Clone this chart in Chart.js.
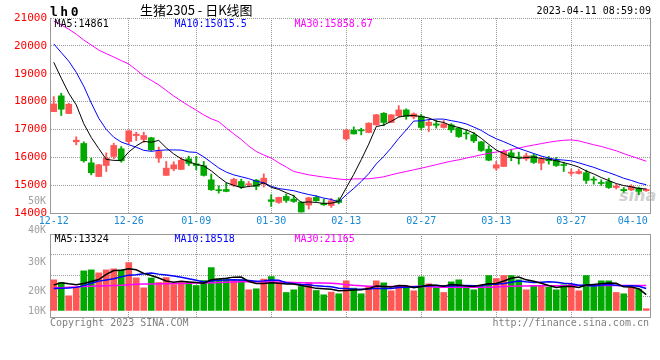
<!DOCTYPE html>
<html><head><meta charset="utf-8">
<script src="https://cdn.jsdelivr.net/npm/chart.js@4.4.1/dist/chart.umd.min.js"></script>
<style>
html,body{margin:0;padding:0;background:#fff;width:660px;height:360px;overflow:hidden;}
#wrap{position:relative;width:660px;height:360px;}
canvas{position:absolute;left:0;}
.t{position:absolute;white-space:pre;font-family:"DejaVu Sans Mono",monospace;font-size:10px;line-height:10px;}
</style></head><body><div id="wrap">
<div id="wm" style="position:absolute;left:619px;top:188px;font:italic bold 16px 'DejaVu Sans';color:#d0d0d0;line-height:16px">sina</div>
<canvas id="main" width="660" height="232" style="top:0"></canvas>
<canvas id="vol" width="660" height="88" style="top:232px"></canvas>
</div>
<script>
// ---------- data ----------
const dates = [
'12-12','12-13','12-14','12-15','12-16','12-19','12-20','12-21','12-22','12-23',
'12-26','12-27','12-28','12-29','12-30','01-03','01-04','01-05','01-06','01-09',
'01-10','01-11','01-12','01-13','01-16','01-17','01-18','01-19','01-20','01-30',
'01-31','02-01','02-02','02-03','02-06','02-07','02-08','02-09','02-10','02-13',
'02-14','02-15','02-16','02-17','02-20','02-21','02-22','02-23','02-24','02-27',
'02-28','03-01','03-02','03-03','03-06','03-07','03-08','03-09','03-10','03-13',
'03-14','03-15','03-16','03-17','03-20','03-21','03-22','03-23','03-24','03-27',
'03-28','03-29','03-30','03-31','04-03','04-04','04-06','04-07','04-10','04-11'];
const labelDates = ['12-12','12-26','01-09','01-30','02-13','02-27','03-13','03-27','04-10'];

const open = [17640,18205,17570,16555,16495,15800,15310,15705,16030,16305,
16565,16780,16640,16700,15970,15350,15585,15565,15945,15765,
15695,15190,14835,14845,15000,15130,15015,15180,15060,14475,
14380,14595,14500,14390,14285,14560,14345,14270,14465,16660,
16975,16975,16890,17165,17580,17250,17485,17700,17450,17475,
17140,17200,17070,17165,17045,16865,16805,16555,16290,15610,
15670,16160,16005,15945,16055,15790,15935,15895,15740,15430,
15420,15445,15215,15095,15130,14915,14845,14835,14895,14800];
const high = [18180,18300,17940,16735,16555,15970,15745,16160,16505,16385,
16975,16900,16900,16720,16365,15850,15840,15995,16040,16030,
15850,15395,14975,15075,15250,15215,15130,15205,15405,14655,
14570,14680,14640,14415,14570,14620,14500,14525,14545,16995,
17090,17045,17240,17540,17605,17530,17855,17740,17595,17545,
17365,17330,17320,17210,17080,16985,16890,16565,16410,15850,
16270,16290,16185,16150,16110,16015,16030,15995,15825,15575,
15575,15540,15300,15190,15250,15035,14915,15015,14930,14870];
const low = [17640,17500,17570,16445,15825,15370,15300,15490,15945,15825,
16485,16600,16530,16230,15815,15350,15515,15565,15705,15550,
15325,14810,14715,14760,14955,14880,14940,14835,14930,14235,
14345,14380,14380,14035,14140,14415,14270,14200,14330,16615,
16830,16805,16880,17150,17130,17240,17450,17365,17380,16985,
16925,17045,17045,16890,16710,16650,16530,16210,15875,15540,
15670,15875,15755,15885,15780,15550,15755,15670,15490,15350,
15395,15060,15035,14990,14880,14860,14740,14800,14655,14775];
const close = [17915,17725,17905,16615,15875,15445,15730,15970,16425,15875,
16950,16830,16780,16270,16210,15610,15730,15895,15780,15705,
15350,14835,14800,14775,15205,14940,15050,14955,15250,14415,
14560,14450,14415,14035,14545,14440,14295,14440,14380,16975,
16840,16950,17225,17525,17250,17525,17700,17465,17560,17070,
17260,17150,17200,16985,16745,16840,16590,16245,15895,15730,
16210,15995,15980,16055,15815,15935,15875,15705,15705,15465,
15490,15170,15180,15060,14915,14965,14800,14955,14775,14845];

const ma5 = [19410,18840,18300,17880,17207,16712,16313,15926,15888,15888,
16189,16409,16571,16540,16607,16339,16120,15943,15845,15744,
15692,15513,15293,15092,14992,14910,14953,14984,15080,14922,
14846,14726,14618,14375,14401,14377,14346,14351,14420,14905,
15386,15916,16473,17102,17157,17293,17444,17492,17499,17463,
17410,17300,17248,17133,17069,16985,16872,16681,16464,16260,
16134,16014,15962,15993,16010,15955,15931,15876,15806,15737,
15649,15508,15402,15273,15163,15058,14984,14939,14881,14861];
const ma10 = [20070,19760,19450,19050,18550,17950,17400,17000,16720,16547,
16451,16361,16249,16214,16247,16264,16264,16257,16192,16176,
16016,15816,15618,15468,15368,15301,15233,15139,15086,14957,
14878,14840,14801,14727,14662,14611,14536,14485,14397,14653,
14881,15131,15412,15761,16031,16340,16680,16983,17300,17310,
17352,17372,17370,17316,17266,17198,17086,16964,16798,16665,
16559,16443,16322,16228,16135,16044,15973,15919,15900,15873,
15802,15719,15639,15540,15450,15353,15246,15171,15077,15015.5];
const ma30 = [20890,20750,20600,20420,20210,20030,19850,19720,19600,19470,
19350,19140,18920,18760,18600,18400,18200,18020,17850,17690,
17520,17380,17280,17050,16840,16640,16400,16210,16080,15970,
15800,15650,15490,15430,15370,15330,15290,15255,15220,15195,
15225,15225,15230,15260,15300,15370,15435,15490,15550,15610,
15670,15735,15800,15860,15910,15970,16030,16090,16140,16190,
16210,16280,16330,16390,16440,16490,16540,16580,16610,16625,
16590,16520,16450,16390,16310,16235,16130,16040,15950,15858.67];

const volume = [25880,23600,12390,19700,33470,34310,31780,34310,35150,34310,
40460,27570,19140,27500,23600,27820,21920,23600,23600,21080,
25290,36250,26720,26720,25880,25880,17450,18290,26470,28660,
23600,15170,17450,20230,23600,16860,13240,15510,14080,25040,
18860,14080,20260,25040,23350,16610,20260,19420,16610,28410,
22510,19420,15200,24190,25880,18860,17450,20820,29530,27000,
29530,29530,25880,17450,21100,21100,19700,17450,21670,21940,
16610,29530,20260,25040,25040,15200,14080,19420,18010,1430];
const volMa5 = [21500,23500,22500,21800,22844,24530,26166,30550,33804,33972,
35202,34360,31326,29588,27446,24918,23788,24680,24108,23604,
23098,25964,26588,27212,28172,28290,24530,22844,22794,23350,
22894,22438,22270,21022,20010,18662,18276,17888,16658,16946,
17346,17514,18464,20656,20318,19868,21104,20936,19250,20262,
21442,21274,20430,21946,21440,20710,20316,21440,22508,22732,
24866,27282,28294,25878,24698,23012,21046,19360,20204,20372,
19474,21440,22002,22676,23296,23014,19924,19756,18350,13324];
const volMa10 = [18600,18700,18900,19500,21000,23000,24800,25800,26800,28408,
29866,30263,30938,31696,30709,30060,29074,28003,26848,25525,
24008,24876,25634,25660,25888,25694,25247,24716,25003,25761,
25592,23484,22557,21908,21680,20778,20357,20079,18840,18478,
18004,17895,18176,18657,18632,18607,19309,19700,19953,20290,
20655,21189,20683,20598,20851,21076,20795,20935,22227,22086,
22788,23799,24867,24193,23715,23939,24164,23827,23041,22535,
21243,21243,20681,21440,21834,21244,20682,20879,20513,18518];
const volMa30 = [18900,19200,19600,19900,20200,20400,20600,20800,21000,21200,
21800,22200,22300,22400,22500,22600,22700,22800,23000,23200,
23300,23500,23700,23900,24100,24200,24300,24300,24200,24100,
24000,23900,23700,23500,23300,23200,23100,23000,22500,21800,
21200,20800,20500,20300,20300,20300,20300,20300,20300,20400,
20300,19700,19600,19600,19600,19600,19600,19600,19700,19900,
20200,20400,20600,20700,20800,20800,20800,20900,20900,20900,
21000,21000,21000,21000,21100,21100,21100,21100,21150,21165];

const priceMin = 14000, priceMax = 21000, priceStep = 1000;
const volMin = -5560, volMax = 64660;
const volTickLabels = ['50K','40K','30K','20K','10K'];

const codeText = 'lh0';
const titleText = '生猪2305 - 日K线图';
const stampText = '2023-04-11 08:59:09';
const priceLegend = [['MA5','14861'],['MA10','15015.5'],['MA30','15858.67']];
const volLegend = [['MA5','13324'],['MA10','18518'],['MA30','21165']];
const copyText = 'Copyright 2023 SINA.COM';
const urlText = 'http://finance.sina.com.cn';

// ---------- styles ----------
const UP = '#ff5656', DOWN = '#00a800';
const maColors = ['#000000','#0000ff','#ff00ff'];
const GRID = '#999999', FRAME = '#999999';
const MONO = 'DejaVu Sans Mono';

const candleColors = open.map((o,i)=> close[i] >= o ? UP : DOWN);
const labelIdx = labelDates.map(d => dates.indexOf(d));
const gridIdx = new Set(labelIdx.slice(1, -1));
const lastLabelIdx = labelIdx[labelIdx.length-1];

const framePlugin = {
  id: 'frame',
  afterDraw(chart, args, opts) {
    const {ctx, chartArea: a} = chart;
    ctx.save();
    ctx.strokeStyle = FRAME; ctx.lineWidth = 1;
    ctx.beginPath();
    const r = Math.round(a.right) + 0.5;
    ctx.moveTo(r, a.top); ctx.lineTo(r, a.bottom + 0.5);
    if (opts && opts.top) {
      const t = Math.round(a.top) + 0.5;
      ctx.moveTo(a.left, t); ctx.lineTo(a.right + 1, t);
    }
    ctx.stroke();
    ctx.restore();
  }
};

function lineDs(data, color, w) {
  return {type:'line', data, borderColor:color, borderWidth:w, pointRadius:0,
          tension:0, fill:false, order:0};
}
const xGridColor = c => gridIdx.has(c.index) ? GRID : 'rgba(0,0,0,0)';

// ---------- main price chart ----------
new Chart(document.getElementById('main'), {
  type: 'bar',
  data: {
    labels: dates,
    datasets: [
      lineDs(ma5, maColors[0], 1),
      lineDs(ma10, maColors[1], 1),
      lineDs(ma30, maColors[2], 1),
      {data: open.map((o,i)=>[o, close[i]]), backgroundColor: candleColors,
       barThickness: 6, minBarLength: 1, grouped: false, order: 1, borderWidth: 0},
      {data: low.map((l,i)=>[l, high[i]]), backgroundColor: candleColors,
       barThickness: 1.2, grouped: false, order: 2, borderWidth: 0}
    ]
  },
  options: {
    responsive: false, animation: false, events: [],
    layout: {padding: {top: 18, right: 10, left: 0, bottom: 0}},
    plugins: {legend: {display: false}, tooltip: {enabled: false}, frame: {top: false}},
    scales: {
      x: {
        offset: true,
        grid: {offset: false, drawTicks: false, color: xGridColor},
        border: {color: FRAME, dash: [1,1]},
        ticks: {autoSkip: false, maxRotation: 0, minRotation: 0, padding: 2,
                color: '#1a8ad4', font: {family: MONO, size: 10},
                callback: (v, i) => labelIdx.includes(i) ? (i === lastLabelIdx ? dates[i] + '  ' : dates[i]) : ''},
        afterFit: s => { s.height = 19; s.paddingLeft = 0; s.paddingRight = 0; }
      },
      y: {
        min: priceMin, max: priceMax,
        ticks: {stepSize: priceStep, color: '#ff0000', padding: 3,
                font: {family: MONO, size: 11}, callback: v => String(v)},
        grid: {drawTicks: false, color: c => c.tick && c.tick.value === priceMin ? 'rgba(0,0,0,0)' : GRID},
        border: {color: FRAME, dash: [1,1]},
        afterFit: s => { s.width = 50; }
      }
    }
  },
  plugins: [framePlugin]
});

// ---------- volume chart ----------
const volGrid = [1,2,3,4].map(k => volMin + k * (volMax - volMin) / 4);
new Chart(document.getElementById('vol'), {
  type: 'bar',
  data: {
    labels: dates,
    datasets: [
      lineDs(volMa5, maColors[0], 1.5),
      lineDs(volMa10, maColors[1], 1.5),
      lineDs(volMa30, maColors[2], 1.5),
      {data: volume, backgroundColor: candleColors, barThickness: 6, order: 1, borderWidth: 0}
    ]
  },
  options: {
    responsive: false, animation: false, events: [],
    layout: {padding: {top: 2, right: 10, left: 0, bottom: 0}},
    plugins: {legend: {display: false}, tooltip: {enabled: false}, frame: {top: true}},
    scales: {
      x: {
        offset: true,
        grid: {offset: false, drawTicks: false, color: xGridColor},
        border: {color: FRAME, dash: [1,1]},
        ticks: {display: false},
        afterFit: s => { s.height = 3; s.paddingLeft = 0; s.paddingRight = 0; }
      },
      y: {
        min: volMin, max: volMax,
        ticks: {display: false},
        afterBuildTicks: s => { s.ticks = volGrid.map(v => ({value: v})); },
        grid: {drawTicks: false, color: c => c.tick && c.tick.value >= volMax - 1 ? 'rgba(0,0,0,0)' : GRID},
        border: {color: FRAME, dash: [1,1]},
        afterFit: s => { s.width = 50; }
      }
    }
  },
  plugins: [framePlugin]
});

// ---------- texts ----------
const wrap = document.getElementById('wrap');
function addText(txt, style) {
  const d = document.createElement('div');
  d.className = 't';
  d.textContent = txt;
  Object.assign(d.style, style);
  wrap.appendChild(d);
  return d;
}
addText(codeText, {left:'50px', top:'5px', fontSize:'13px', lineHeight:'13px', fontWeight:'bold', letterSpacing:'2.5px', color:'#000'});
addText(titleText, {left:'140px', top:'3px', fontSize:'13px', lineHeight:'14px', fontFamily:'"Noto Sans CJK SC", sans-serif', color:'#000'});
addText(stampText, {right:'9px', top:'6px', color:'#000'});
const legendX = [54.5, 174.5, 294.5];
priceLegend.forEach((p, k) => addText(p[0] + ':' + p[1], {left: legendX[k] + 'px', top:'18.5px', color: maColors[k]}));
volLegend.forEach((p, k) => addText(p[0] + ':' + p[1], {left: legendX[k] + 'px', top:'233.5px', color: maColors[k]}));
const volLabelTop = [195.5, 225.2, 256.5, 285.7, 305.5];
volTickLabels.forEach((t, k) => addText(t, {right:'614px', top: volLabelTop[k] + 'px', color:'#a0a0a0'}));
addText(copyText, {left:'50px', top:'318px', color:'#808080'});
addText(urlText, {right:'11px', top:'318px', color:'#808080'});
</script>
</body></html>
